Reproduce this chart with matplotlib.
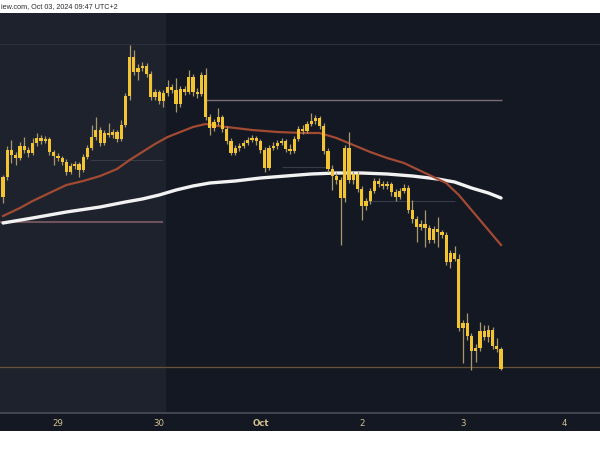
import matplotlib
matplotlib.use("Agg")
import matplotlib.pyplot as plt
from matplotlib.patches import Rectangle

# hourly candles, hours counted from Sep 29 00:00 (UTC+2)
hours = list(range(-13, 106))

opens = [2523, 2543, 2570, 2565, 2562, 2574, 2570, 2567, 2577, 2582,
         2579, 2581, 2568, 2564, 2562, 2558, 2548, 2554, 2556, 2550,
         2563, 2572, 2583, 2590, 2577, 2587, 2585, 2588, 2581, 2595,
         2624, 2663, 2648, 2652, 2654, 2646, 2623, 2628, 2619, 2627,
         2633, 2630, 2616, 2631, 2628, 2643, 2628, 2626, 2645, 2603,
         2592, 2598, 2603, 2591, 2579, 2567, 2572, 2574, 2577, 2580,
         2582, 2579, 2570, 2552, 2572, 2574, 2577, 2579, 2571, 2569,
         2581, 2591, 2589, 2596, 2599, 2602, 2594, 2569, 2551, 2544,
         2540, 2522, 2572, 2540, 2546, 2531, 2514, 2519, 2529, 2539,
         2536, 2534, 2536, 2528, 2523, 2529, 2532, 2510, 2501, 2493,
         2496, 2492, 2480, 2491, 2488, 2485, 2458, 2467, 2461, 2392,
         2397, 2384, 2369, 2372, 2389, 2383, 2390, 2374, 2371]
highs = [2545, 2574, 2580, 2568, 2578, 2583, 2573, 2582, 2587, 2585,
         2584, 2583, 2570, 2567, 2564, 2561, 2557, 2559, 2558, 2566,
         2575, 2595, 2603, 2593, 2590, 2597, 2591, 2590, 2600, 2627,
         2675, 2670, 2656, 2658, 2657, 2649, 2631, 2630, 2630, 2640,
         2636, 2642, 2634, 2634, 2650, 2646, 2632, 2648, 2652, 2606,
         2601, 2612, 2605, 2594, 2582, 2575, 2577, 2580, 2583, 2585,
         2584, 2581, 2573, 2575, 2578, 2580, 2582, 2581, 2576, 2584,
         2594, 2595, 2599, 2607, 2605, 2604, 2597, 2572, 2555, 2548,
         2543, 2575, 2588, 2549, 2549, 2534, 2522, 2532, 2542, 2542,
         2539, 2539, 2538, 2531, 2532, 2536, 2535, 2520, 2504, 2500,
         2510, 2495, 2494, 2503, 2490, 2488, 2470, 2474, 2466, 2400,
         2407, 2387, 2376, 2398, 2395, 2395, 2393, 2382, 2373]
lows = [2517, 2540, 2557, 2555, 2560, 2567, 2563, 2565, 2574, 2576,
        2577, 2565, 2555, 2559, 2555, 2545, 2546, 2551, 2543, 2548,
        2561, 2570, 2580, 2574, 2575, 2583, 2582, 2578, 2579, 2593,
        2620, 2645, 2640, 2649, 2643, 2620, 2620, 2616, 2613, 2624,
        2627, 2608, 2613, 2625, 2626, 2624, 2622, 2624, 2600, 2585,
        2589, 2595, 2588, 2576, 2565, 2565, 2569, 2572, 2575, 2578,
        2575, 2567, 2548, 2550, 2570, 2571, 2575, 2568, 2566, 2567,
        2579, 2586, 2587, 2594, 2596, 2591, 2566, 2548, 2530, 2536,
        2475, 2518, 2537, 2536, 2528, 2500, 2510, 2516, 2527, 2533,
        2531, 2531, 2524, 2519, 2521, 2527, 2507, 2497, 2478, 2490,
        2473, 2477, 2477, 2473, 2482, 2455, 2452, 2459, 2389, 2357,
        2380, 2350, 2358, 2369, 2380, 2378, 2371, 2368, 2350]
closes = [2543, 2570, 2565, 2562, 2574, 2570, 2567, 2577, 2582, 2579,
          2581, 2568, 2564, 2562, 2558, 2548, 2554, 2556, 2550, 2563,
          2572, 2583, 2590, 2577, 2587, 2585, 2588, 2581, 2595, 2624,
          2663, 2648, 2652, 2654, 2646, 2623, 2628, 2619, 2627, 2633,
          2630, 2616, 2631, 2628, 2643, 2628, 2626, 2645, 2603, 2592,
          2598, 2603, 2591, 2579, 2567, 2572, 2574, 2577, 2580, 2582,
          2579, 2570, 2552, 2572, 2574, 2577, 2579, 2571, 2569, 2581,
          2591, 2589, 2596, 2599, 2602, 2594, 2569, 2551, 2544, 2540,
          2522, 2572, 2540, 2546, 2531, 2514, 2519, 2529, 2539, 2536,
          2534, 2536, 2528, 2523, 2529, 2532, 2510, 2501, 2493, 2496,
          2492, 2480, 2491, 2488, 2485, 2458, 2467, 2461, 2392, 2397,
          2384, 2369, 2372, 2389, 2383, 2390, 2374, 2371, 2351]

# moving averages
fast_hours = [-13, -9, -6, -2, 2, 6, 10, 14, 17, 20, 23, 26, 29, 32, 35, 38, 42, 46,
              52, 58, 62, 66, 70, 74, 78, 82, 86, 89, 92, 95, 98, 101, 105]
ma_fast = [2504, 2512, 2519, 2527, 2535, 2539, 2544, 2551, 2560, 2568, 2576, 2583,
           2588, 2593, 2596, 2594, 2592, 2590, 2588, 2587, 2587, 2582, 2575, 2568,
           2562, 2557, 2549, 2543, 2537, 2525, 2510, 2495, 2475]
slow_hours = [-13, -6, 2, 10, 16, 20, 24, 28, 32, 36, 42, 48, 54, 60, 66, 72, 78,
              84, 90, 94, 98, 102, 105]
ma_slow = [2497, 2502, 2508, 2513, 2518, 2521, 2525, 2530, 2534, 2537, 2539, 2542,
           2544, 2546, 2547, 2547, 2546, 2544, 2541, 2538, 2532, 2527, 2522]

# horizontal levels: (price, from hour, to hour, colour, width)
levels = [(2676, -14, 129, "#2c303d", 0.8),
          (2620, 34.9, 105.2, "#7a6e73", 1.0),
          (2560, 7.6, 24.9, "#383b48", 0.8),
          (2553, 53.0, 64.5, "#383b48", 0.8),
          (2519, 72.3, 94.1, "#383b48", 0.8),
          (2498, -14, 24.9, "#6e525a", 1.5),
          (2353, -14, 129, "#6a5238", 0.9)]

day_ticks = [0, 24, 48, 72, 96, 120]
day_labels = ["29", "30", "Oct", "2", "3", "4"]

fig = plt.figure(figsize=(6, 4.5), dpi=100, facecolor="white")
fig.patches.append(Rectangle((0, 19 / 450), 1, 418 / 450, transform=fig.transFigure,
                             facecolor="#141823", edgecolor="none", zorder=-10))
fig.text(1 / 600, 1 - 7 / 450, "iew.com, Oct 03, 2024 09:47 UTC+2", fontsize=5.2,
         family="Liberation Sans", color="#2a2a2a", va="center", ha="left")

ax = fig.add_axes([0, 37 / 450, 1, 400 / 450])
ax.set_zorder(1)
ax.set_facecolor("#141823")
ax.set_xlim(-13.72, 128.45)
ax.set_ylim(2307, 2707)

# lighter weekend session block
ax.axvspan(-13.72, 25.6, color="#1e222d", zorder=0, lw=0)

for p, a, b, c, w in levels:
    ax.hlines(p, a, b, colors=c, lw=w, zorder=1)

ax.plot(slow_hours, ma_slow, color="#f2f2f2", lw=2.4, zorder=3,
        solid_capstyle="round", solid_joinstyle="round")
ax.plot(fast_hours, ma_fast, color="#a24a32", lw=1.6, zorder=3, solid_joinstyle="round")

ax.vlines(hours, lows, highs, colors="#a8986a", lw=0.9, zorder=4)
bottoms = [min(o, c) for o, c in zip(opens, closes)]
heights = [max(abs(c - o), 2) for o, c in zip(opens, closes)]
ax.bar(hours, heights, bottom=bottoms, width=0.76, color="#f3c431", lw=0, zorder=5)

ax.set_xticks(day_ticks)
ax.set_xticklabels(day_labels)
ax.tick_params(axis="x", length=0, pad=4, labelsize=6.2, labelcolor="#d2c28e")
ax.get_xticklabels()[2].set_fontweight("bold")
ax.set_yticks([])
for s in ["top", "left", "right"]:
    ax.spines[s].set_visible(False)
ax.spines["bottom"].set_color("#4a4e5a")
ax.spines["bottom"].set_linewidth(1.2)

fig.savefig("out.png", dpi=100, facecolor=fig.get_facecolor())
